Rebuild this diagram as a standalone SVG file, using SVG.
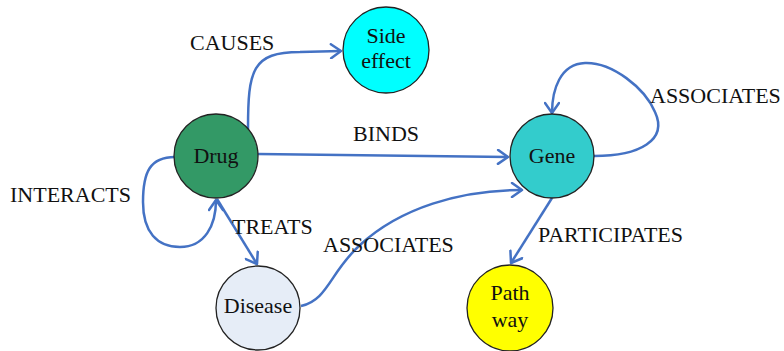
<svg xmlns="http://www.w3.org/2000/svg" width="784" height="351" viewBox="0 0 784 351">
<style>
.node{stroke:#222;stroke-width:1.3}
.lbl{font-family:"Liberation Serif","Times New Roman",serif;font-size:22px;fill:#111}
.nt{font-family:"Liberation Serif","Times New Roman",serif;font-size:22px;fill:#111;text-anchor:middle}
.edge{fill:none;stroke:#4472C4;stroke-width:2.5;marker-end:url(#arr)}
</style>
<defs>
<marker id="arr" markerUnits="userSpaceOnUse" markerWidth="16" markerHeight="16" refX="12" refY="8" orient="auto">
<path d="M2,1 L12,8 L2,15" fill="none" stroke="#4472C4" stroke-width="2.5" stroke-linecap="round" stroke-linejoin="round"/>
</marker>
</defs>
<rect width="784" height="351" fill="#fff"/>
<g id="connectors">
<path class="edge" d="M248,129 C248,70 252,52 300,52 L341,51"/>
<path class="edge" d="M258,154 L508,157"/>
<path class="edge" d="M594,156 C640,156 668,140 655,112 C645,88 612,62 585,63 C560,64 552,90 552,113"/>
<path class="edge" d="M175,157 C150,157 143,172 143,202 C143,232 157,247 180,247 C205,247 216,225 216,200"/>
<path class="edge" d="M217,199 L257,264"/>
<path class="edge" d="M301,306 C328,300 330,272 360,245 C400,208 460,190 522,190"/>
<path class="edge" d="M552,198 L511,263"/>
</g>
<g id="drug"><circle class="node" cx="216" cy="156" r="42" fill="#339966"/><text class="nt" x="216" y="163">Drug</text></g>
<g id="side-effect"><circle class="node" cx="386" cy="50" r="43" fill="#00FFFF"/><text class="nt" x="386" y="43">Side</text><text class="nt" x="386" y="68">effect</text></g>
<g id="gene"><circle class="node" cx="552" cy="156" r="42" fill="#33CCCC"/><text class="nt" x="552" y="163">Gene</text></g>
<g id="disease"><circle class="node" cx="258" cy="308" r="42" fill="#E6EDF7"/><text class="nt" x="258" y="313">Disease</text></g>
<g id="pathway"><circle class="node" cx="510" cy="308" r="43" fill="#FFFF00"/><text class="nt" x="510" y="300">Path</text><text class="nt" x="510" y="327">way</text></g>
<g id="labels">
<text class="lbl" x="190" y="50">CAUSES</text>
<text class="lbl" x="353" y="141">BINDS</text>
<text class="lbl" x="650" y="103">ASSOCIATES</text>
<text class="lbl" x="10" y="202">INTERACTS</text>
<text class="lbl" x="232" y="234">TREATS</text>
<text class="lbl" x="323" y="252">ASSOCIATES</text>
<text class="lbl" x="538" y="242">PARTICIPATES</text>
</g>
</svg>
